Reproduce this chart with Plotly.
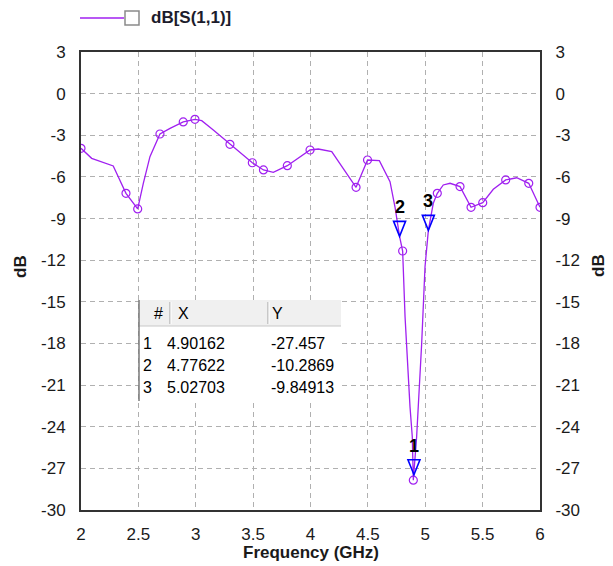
import plotly.graph_objects as go

# S11 response (GHz, dB)
freq = [2.00, 2.093, 2.281, 2.392, 2.494, 2.543, 2.601, 2.688, 2.776, 2.891,
        2.993, 3.052, 3.153, 3.298, 3.493, 3.590, 3.676, 3.798, 3.996, 4.068,
        4.185, 4.397, 4.497, 4.600, 4.693, 4.736, 4.77622, 4.803, 4.824, 4.867,
        4.887, 4.896, 4.925, 4.969, 4.998, 5.02703, 5.070, 5.105, 5.157, 5.216,
        5.303, 5.399, 5.501, 5.593, 5.701, 5.797, 5.902, 6.00]
s11_db = [-3.94, -4.66, -5.21, -7.18, -8.31, -6.46, -4.54, -2.91, -2.50, -2.04,
          -1.85, -1.95, -2.62, -3.65, -4.98, -5.50, -5.67, -5.19, -4.06, -3.99,
          -4.18, -6.75, -4.78, -4.83, -6.34, -8.15, -10.2869, -11.34, -16.07, -22.55,
          -24.72, -27.85, -24.72, -17.99, -12.47, -9.84913, -7.90, -7.18, -6.58, -6.46,
          -6.70, -8.19, -7.86, -6.89, -6.22, -6.06, -6.46, -8.19]

# solved frequency points
sample_freq = [2.00, 2.392, 2.494, 2.688, 2.891, 2.993, 3.298, 3.493, 3.590, 3.798,
               3.996, 4.397, 4.497, 4.803, 4.896, 5.105, 5.303, 5.399, 5.501, 5.701,
               5.902, 6.00]
sample_db = [-3.94, -7.18, -8.31, -2.91, -2.04, -1.85, -3.65, -4.98, -5.50, -5.19,
             -4.06, -6.75, -4.78, -11.34, -27.85, -7.18, -6.70, -8.19, -7.86, -6.22,
             -6.46, -8.19]

# markers
marker_ids = ["1", "2", "3"]
marker_freq = [4.90162, 4.77622, 5.02703]
marker_db = [-27.457, -10.2869, -9.84913]
table_header = ["#", "X", "Y"]

x_ticks = [2, 2.5, 3, 3.5, 4, 4.5, 5, 5.5, 6]
y_ticks = [3, 0, -3, -6, -9, -12, -15, -18, -21, -24, -27, -30]
x_tick_text = ["2", "2.5", "3", "3.5", "4", "4.5", "5", "5.5", "6"]
y_tick_text = ["3", "0", "-3", "-6", "-9", "-12", "-15", "-18", "-21", "-24", "-27", "-30"]
trace_name = "dB[S(1,1)]"

PURPLE = "#a020f0"
FONT = "Liberation Sans, Arial, sans-serif"
FIG_W, FIG_H = 613, 566
L, R, T, B = 81, 73, 52, 56
PW = FIG_W - L - R
PH = FIG_H - T - B


def px(x):
    return (x - L) / PW


def py(y):
    return (T + PH - y) / PH


def label(x, y, text, size, anchor="left", color="#000000", angle=0):
    return dict(x=px(x), y=py(y), xref="paper", yref="paper", text=text,
                showarrow=False, xanchor=anchor, yanchor="middle", textangle=angle,
                font=dict(family=FONT, size=size, color=color))


fig = go.Figure()
fig.add_trace(go.Scatter(x=freq, y=s11_db, mode="lines",
                         line=dict(color=PURPLE, width=1.3),
                         name=trace_name, showlegend=False))
fig.add_trace(go.Scatter(x=sample_freq, y=sample_db, mode="markers",
                         marker=dict(symbol="circle-open", size=8,
                                     color=PURPLE, line=dict(width=1.2)),
                         showlegend=False))
# carrier for the right-hand axis
fig.add_trace(go.Scatter(x=[x_ticks[0]], y=[y_ticks[-1]], yaxis="y2",
                         mode="markers", opacity=0, hoverinfo="skip",
                         showlegend=False))

shapes = []
annotations = []

# marker triangles and their numbers
for mid, mf, md in zip(marker_ids, marker_freq, marker_db):
    shapes.append(dict(type="path", xref="x", yref="y",
                       xsizemode="pixel", ysizemode="pixel",
                       xanchor=mf, yanchor=md,
                       path="M-6,15 L6,15 L0,0 Z",
                       line=dict(color="#0000ff", width=1.6),
                       fillcolor="rgba(0,0,0,0)", layer="above"))
    annotations.append(dict(x=mf, y=md, xref="x", yref="y", text=f"<b>{mid}</b>",
                            showarrow=False, yshift=29, xanchor="center",
                            yanchor="middle",
                            font=dict(family=FONT, size=18, color="#000000")))

# marker table
tx0, tx1, ty0, ty1 = 139, 341, 300, 401
hdr_bot = 326
col_sep = [170, 268]
shapes.append(dict(type="rect", xref="paper", yref="paper",
                   x0=px(tx0), x1=px(tx1), y0=py(ty1), y1=py(ty0),
                   fillcolor="#ffffff", line=dict(width=0), layer="above"))
shapes.append(dict(type="rect", xref="paper", yref="paper",
                   x0=px(tx0), x1=px(tx1), y0=py(hdr_bot), y1=py(ty0),
                   fillcolor="#f0f0f0", line=dict(width=0), layer="above"))
shapes.append(dict(type="line", xref="paper", yref="paper",
                   x0=px(tx0), x1=px(tx1), y0=py(hdr_bot), y1=py(hdr_bot),
                   line=dict(color="#c8c8c8", width=1), layer="above"))
for sx in col_sep:
    shapes.append(dict(type="line", xref="paper", yref="paper",
                       x0=px(sx), x1=px(sx), y0=py(hdr_bot - 2), y1=py(ty0 + 2),
                       line=dict(color="#a0a0a0", width=1), layer="above"))
    shapes.append(dict(type="line", xref="paper", yref="paper",
                       x0=px(sx + 1), x1=px(sx + 1), y0=py(hdr_bot - 2), y1=py(ty0 + 2),
                       line=dict(color="#ffffff", width=1), layer="above"))
shapes.append(dict(type="line", xref="paper", yref="paper",
                   x0=px(tx0), x1=px(tx0), y0=py(ty1), y1=py(ty0),
                   line=dict(color="#7a7a7a", width=1.5), layer="above"))

hdr_x = [(158, "center"), (176, "left"), (270, "left")]
for (hx, anc), h in zip(hdr_x, table_header):
    annotations.append(label(hx, 313, h, 16, anchor=anc))
row_y = [343, 365, 387]
for ry, mid, mf, md in zip(row_y, marker_ids, marker_freq, marker_db):
    for cx, val in zip([141, 165, 269], [mid, f"{mf:g}", f"{md:g}"]):
        annotations.append(label(cx, ry, val, 16))

# legend entry
shapes.append(dict(type="line", xref="paper", yref="paper",
                   x0=px(80), x1=px(124), y0=py(18), y1=py(18),
                   line=dict(color=PURPLE, width=1.5)))
shapes.append(dict(type="rect", xref="paper", yref="paper",
                   x0=px(125), x1=px(139), y0=py(25), y1=py(11),
                   fillcolor="#ffffff", line=dict(color="#8a8a8a", width=1.5)))
annotations.append(label(149, 18, f"<b>{trace_name}</b>", 17, color="#1c1c2c"))

# axis titles
annotations.append(label(311, 552, "<b>Frequency (GHz)</b>", 17,
                         anchor="center", color="#1a1a1a"))
for tx in (20, 598):
    annotations.append(label(tx, 266, "<b>dB</b>", 17, anchor="center",
                             color="#1a1a1a", angle=-90))

axis_common = dict(showline=True, linecolor="#333333", linewidth=2,
                   ticks="", zeroline=False,
                   tickfont=dict(family=FONT, size=17, color="#1a1a1a"))
grid = dict(showgrid=True, gridcolor="#b0b0b0", gridwidth=1, griddash="5px,4px")

fig.update_layout(
    width=FIG_W, height=FIG_H,
    margin=dict(l=L, r=R, t=T, b=B),
    paper_bgcolor="#ffffff", plot_bgcolor="#ffffff",
    showlegend=False,
    xaxis=dict(range=[x_ticks[0], x_ticks[-1]], tickvals=x_ticks,
               ticktext=x_tick_text, mirror=True,
               ticklabelstandoff=8, **axis_common, **grid),
    yaxis=dict(range=[y_ticks[-1], y_ticks[0]], tickvals=y_ticks,
               ticktext=y_tick_text, mirror=True,
               ticklabelstandoff=10, **axis_common, **grid),
    yaxis2=dict(range=[y_ticks[-1], y_ticks[0]], tickvals=y_ticks,
                ticktext=y_tick_text, overlaying="y",
                side="right", showgrid=False, ticklabelstandoff=10, **axis_common),
    shapes=shapes,
    annotations=annotations,
)

fig.write_html("out.html")
